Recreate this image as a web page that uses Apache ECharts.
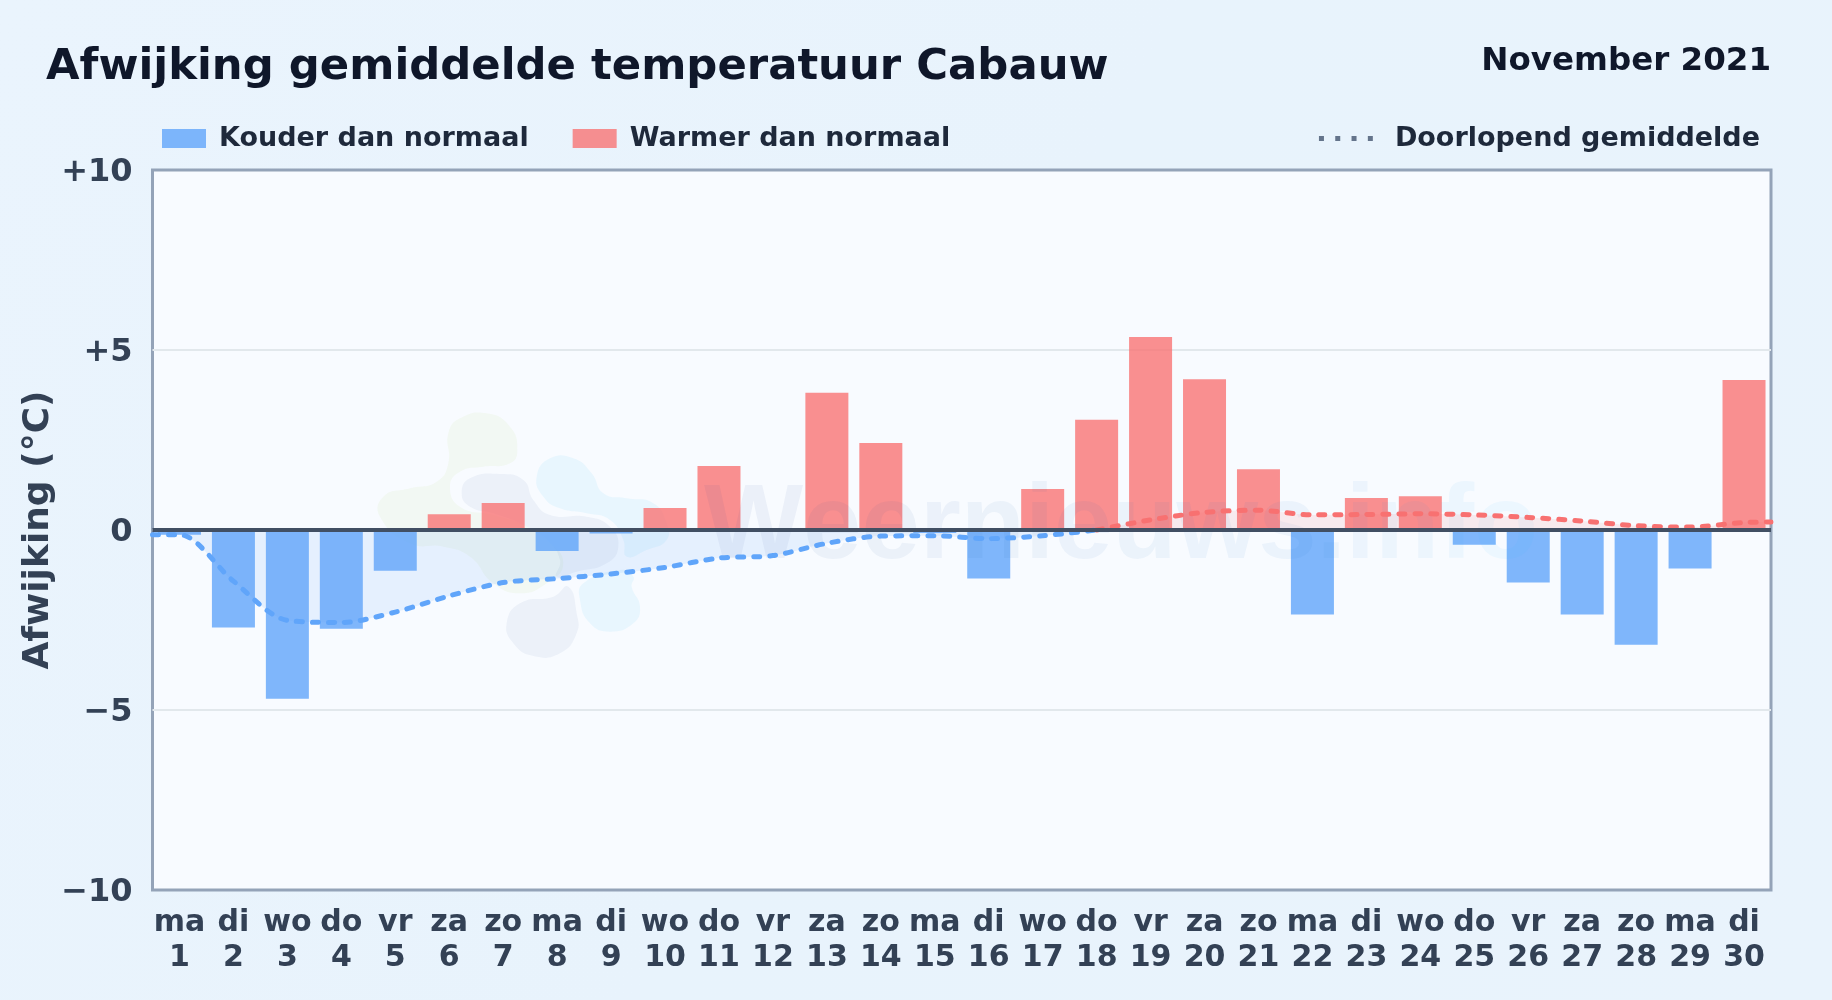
<!DOCTYPE html>
<html><head><meta charset="utf-8">
<style>html,body{margin:0;padding:0;background:#e9f3fc}#c{width:1832px;height:1000px}</style>
<script src="https://cdn.jsdelivr.net/npm/echarts@6/dist/echarts.min.js"></script>
</head><body><div id="c"></div>
<script>
const weekdays = ['ma','di','wo','do','vr','za','zo','ma','di','wo','do','vr','za','zo','ma','di','wo','do','vr','za','zo','ma','di','wo','do','vr','za','zo','ma','di'];
const days = ['1','2','3','4','5','6','7','8','9','10','11','12','13','14','15','16','17','18','19','20','21','22','23','24','25','26','27','28','29','30'];
const deviation = [-0.13,-2.71,-4.69,-2.74,-1.13,0.44,0.75,-0.58,-0.1,0.61,1.78,0,3.81,2.42,-0.08,-1.35,1.14,3.06,5.36,4.19,1.69,-2.35,0.89,0.94,-0.41,-1.46,-2.35,-3.19,-1.07,4.17];
const runningCold = [[0.5,-0.13],[1,-0.13],[2,-1.42],[3,-2.51],[4,-2.57],[5,-2.28],[6,-1.83],[7,-1.46],[8,-1.35],[9,-1.22],[10,-1.04],[11,-0.78],[12,-0.71],[13,-0.37],[14,-0.17],[15,-0.16],[16,-0.24],[17,-0.16],[18,0]];
const runningWarm = [[18,0],[19,0.28],[20,0.49],[21,0.55],[22,0.42],[23,0.43],[24,0.45],[25,0.42],[26,0.35],[27,0.25],[28,0.12],[29,0.08],[30,0.21],[30.5,0.22]];
const yTicks = {'10':'+10','5':'+5','0':'0','-5':'\u22125','-10':'\u221210'};
const FONT = '"DejaVu Sans"';
const watermark = 'Weernieuws.info';
const watermarkColors = ['#1e4a94','#1f4e9a','#2053a0','#2158a6','#225eac','#2364b2','#2569b8','#266fbe','#2875c4','#2a7bca','#2c82d0','#2e89d6','#309fe0','#34aeec','#38bdf8'];
const blobs = [
 {c:'#84cc16',o:.05,p:[[265,100],[300,55],[380,40],[450,80],[472,150],[450,190],[370,200],[300,215],[270,260],[300,320],[400,345],[490,375],[560,420],[610,490],[560,550],[480,580],[400,550],[330,470],[250,440],[150,430],[60,350],[70,290],[150,265],[230,245],[265,190]]},
 {c:'#1e4a8a',o:.055,p:[[305,280],[330,235],[420,222],[490,240],[520,300],[570,345],[680,350],[750,380],[775,440],[740,490],[650,515],[590,530],[600,480],[560,420],[490,375],[400,340],[330,320]]},
 {c:'#1e4a8a',o:.055,p:[[440,670],[480,610],[580,590],[625,560],[650,640],[650,700],[600,760],[520,768],[460,730]]},
 {c:'#38bdf8',o:.08,p:[[530,230],[570,175],[640,175],[695,220],[730,280],[800,295],[880,310],[920,370],[920,420],[860,450],[800,470],[790,420],[750,360],[680,340],[600,325],[550,290]]},
 {c:'#38bdf8',o:.08,p:[[660,600],[670,550],[780,510],[820,530],[815,560],[840,620],[820,670],[750,695],[690,670]]}
];
const graphic = blobs.map(b=>({type:'polygon',z:1,silent:true,
  shape:{points:b.p.map(([x,y])=>[360+x/3,400+y/3]),smooth:0.5},
  style:{fill:b.c,opacity:b.o}}));
const wmRich = {};
watermarkColors.forEach((c,i)=>{wmRich['c'+i]={fill:c,fontSize:105,fontFamily:'Liberation Sans',fontWeight:'bold'};});
graphic.push({type:'text',z:5,silent:true,left:704,top:477,
  style:{text:watermark.split('').map((ch,i)=>'{c'+i+'|'+ch+'}').join(''),rich:wmRich,fontSize:105,fontFamily:'Liberation Sans',fontWeight:'bold',opacity:.06}});
const bar = (name,color,test)=>({name,type:'bar',barWidth:43,barGap:'-100%',z:3,
  data:deviation.map(v=>test(v)?v:null),itemStyle:{color,opacity:1}});
const line = (data,color)=>({type:'line',xAxisIndex:1,data,smooth:0.3,showSymbol:false,symbol:'none',silent:true,z:6,
  lineStyle:{color,width:5,type:[6,10],cap:'round',join:'round'},
  areaStyle:{color,opacity:.12,origin:0}});
const chart = echarts.init(document.getElementById('c'),null,{renderer:'canvas'});
chart.setOption({
  animation:false,
  textStyle:{fontFamily:FONT},
  backgroundColor:new echarts.graphic.LinearGradient(0,0,1,1,[{offset:0,color:'#eaf4fd'},{offset:.5,color:'#e8f3fc'},{offset:1,color:'#e9f3fc'}]),
  title:[
   {text:'Afwijking gemiddelde temperatuur Cabauw',left:41,top:41,textStyle:{fontFamily:FONT,fontWeight:'bold',fontSize:43.35,color:'#0f172a'}},
   {text:'November 2021',right:56,top:40,textStyle:{fontFamily:FONT,fontWeight:'bold',fontSize:32.5,color:'#0f172a'}}
  ],
  legend:[
   {left:157,top:120,itemWidth:44,itemHeight:19,itemGap:44,icon:'rect',data:['Kouder dan normaal','Warmer dan normaal'],selectedMode:false,
    textStyle:{fontFamily:FONT,fontWeight:'bold',fontSize:27,color:'#1e293b',padding:[0,0,0,8]}},
   {right:67,top:120,itemWidth:54,itemHeight:5,itemGap:0,selectedMode:false,
    data:[{name:'Doorlopend gemiddelde',icon:'path://M0,0h5v5h-5z M16.3,0h5v5h-5z M32.6,0h5v5h-5z M48.9,0h5v5h-5z'}],
    textStyle:{fontFamily:FONT,fontWeight:'bold',fontSize:27,color:'#1e293b',padding:[0,0,0,17]}}
  ],
  grid:{left:152.5,right:61,top:170,bottom:110,show:true,outerBoundsMode:'none',backgroundColor:'#f8fbff',borderColor:'#94a3b8',borderWidth:3},
  xAxis:[
   {type:'category',data:days,axisLine:{show:false},axisTick:{show:false},splitLine:{show:false},
    axisLabel:{interval:0,margin:16,fontFamily:FONT,fontWeight:'bold',fontSize:30,lineHeight:35,color:'#334155',
      formatter:(v,i)=>weekdays[i]+'\n'+v}},
   {type:'value',min:0.5,max:30.5,show:false}
  ],
  yAxis:{type:'value',min:-10,max:10,interval:5,
    name:'Afwijking (\u00b0C)',nameLocation:'middle',nameGap:96,nameMoveOverlap:false,
    nameTextStyle:{fontFamily:FONT,fontWeight:'bold',fontSize:36,color:'#334155'},
    axisLine:{show:false},axisTick:{show:false},
    splitLine:{showMinLine:false,showMaxLine:false,lineStyle:{color:'#e2e8ec',width:2}},
    axisLabel:{margin:20,verticalAlign:'top',lineHeight:6,fontFamily:FONT,fontWeight:'bold',fontSize:32,color:'#334155',formatter:v=>yTicks[String(v)]}},
  graphic,
  series:[
   bar('Kouder dan normaal','rgba(96,165,250,.8)',v=>v<0),
   bar('Warmer dan normaal','rgba(248,113,113,.78)',v=>v>0),
   Object.assign(line(runningCold,'#60a5fa'),{markLine:{silent:true,symbol:'none',z:7,label:{show:false},lineStyle:{color:'#414f63',width:4,type:'solid'},data:[{yAxis:0}]}}),
   line(runningWarm,'#f87171'),
   {name:'Doorlopend gemiddelde',type:'line',xAxisIndex:1,data:[],symbol:'none',itemStyle:{color:'#64748b'},
    lineStyle:{color:'#64748b',width:4}}
  ]
});
</script></body></html>
